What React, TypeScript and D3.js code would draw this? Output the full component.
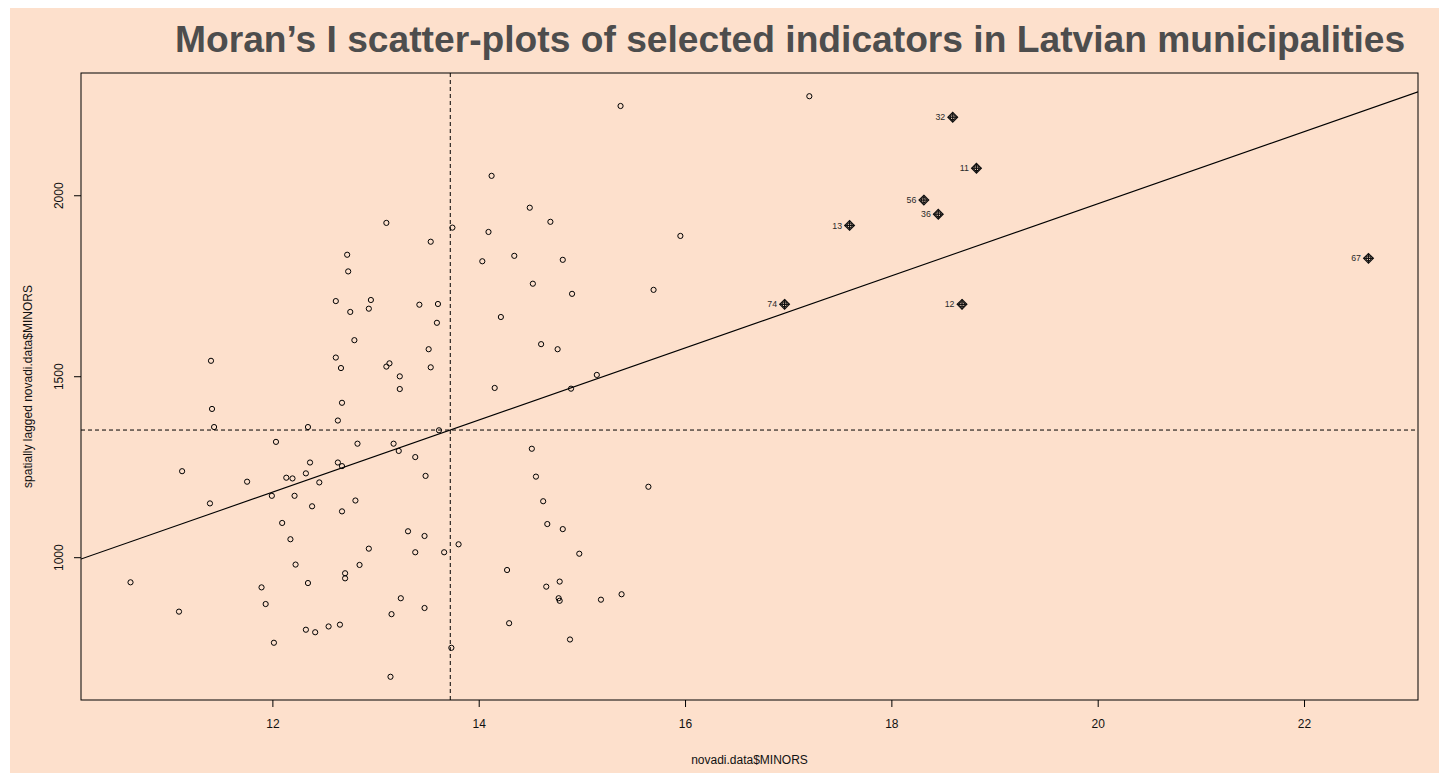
import { useMemo } from 'react'
import { scaleLinear, extent, mean, sum } from 'd3'

// Moran's I scatter-plot (spdep::moran.plot style) — x: MINORS, y: spatially lagged MINORS.
// Ordinary municipalities are drawn as open circles; influential ones get pch 9 diamonds + labels.

const TITLE = 'Moran’s I scatter-plots of selected indicators in Latvian municipalities'
const X_LABEL = 'novadi.data$MINORS'
const Y_LABEL = 'spatially lagged novadi.data$MINORS'

const X_VALUES = [
  13.1, 13.74, 13.53, 12.72, 12.73, 12.61, 12.95, 12.93, 12.75, 13.42,
  13.6, 13.59, 12.79, 12.61, 12.66, 13.51, 13.53, 13.1, 13.13, 11.4,
  13.23, 13.23, 11.41, 12.67, 12.63, 11.43, 12.34, 13.61, 12.03, 12.82,
  13.17, 13.22, 13.38, 11.12, 12.36, 12.63, 12.67, 12.32, 12.13, 12.19,
  11.75, 12.45, 13.48, 11.99, 12.21, 11.39, 12.38, 12.8, 12.67, 12.09,
  12.17, 13.31, 13.47, 13.8, 12.93, 13.38, 13.66, 12.22, 12.84, 12.7,
  12.7, 10.62, 11.89, 12.34, 11.93, 13.24, 11.09, 13.15, 13.47, 12.32,
  12.41, 12.54, 12.65, 12.01, 13.73, 13.14, 15.37, 17.2, 14.12, 14.49,
  14.69, 14.09, 15.95, 14.03, 14.34, 14.81, 14.52, 14.9, 15.69, 14.21,
  14.6, 14.76, 15.14, 14.15, 14.89, 14.51, 14.55, 15.64, 14.62, 14.66,
  14.81, 14.97, 14.27, 14.78, 14.65, 14.77, 14.78, 15.18, 15.38, 14.29,
  14.88,
]

const WX_VALUES = [
  1925, 1912, 1873, 1837, 1791, 1709, 1712, 1688, 1679, 1699,
  1701, 1649, 1601, 1553, 1524, 1576, 1526, 1528, 1537, 1544,
  1501, 1466, 1411, 1428, 1379, 1361, 1361, 1352, 1320, 1315,
  1315, 1295, 1278, 1239, 1263, 1263, 1253, 1233, 1221, 1219,
  1210, 1208, 1226, 1171, 1171, 1150, 1142, 1158, 1128, 1096,
  1051, 1073, 1060, 1037, 1025, 1015, 1015, 981, 980, 957,
  943, 932, 918, 930, 872, 888, 851, 844, 861, 801,
  794, 810, 815, 765, 751, 671, 2248, 2275, 2055, 1967,
  1928, 1900, 1889, 1819, 1834, 1823, 1757, 1729, 1740, 1665,
  1590, 1576, 1505, 1469, 1467, 1301, 1224, 1196, 1156, 1093,
  1079, 1011, 966, 934, 920, 888, 881, 884, 899, 819,
  774,
]

// influential observations (labelled)
const INF_LABELS = ['32', '11', '56', '36', '13', '74', '12', '67']
const INF_X = [18.59, 18.82, 18.31, 18.45, 17.59, 16.96, 18.68, 22.62]
const INF_WX = [2217, 2076, 1988, 1949, 1918, 1700, 1700, 1827]

const X_TICKS = [12, 14, 16, 18, 20, 22]
const Y_TICKS = [1000, 1500, 2000]

const W = 1429
const H = 765
const OX = 10 // page offset of the svg
const OY = 8
// plot frame in page coordinates
const FRAME = { left: 81, right: 1418, top: 73, bottom: 700 }
const BG = '#fde0cc'
const FONT = '"Liberation Sans", Arial, Helvetica, sans-serif'

// R-style 4% padding
function padded([lo, hi]: [number, number]): [number, number] {
  const d = (hi - lo) * 0.04
  return [lo - d, hi + d]
}

export default function App() {
  const allX = useMemo(() => [...X_VALUES, ...INF_X], [])
  const allWX = useMemo(() => [...WX_VALUES, ...INF_WX], [])

  const left = FRAME.left - OX
  const right = FRAME.right - OX
  const top = FRAME.top - OY
  const bottom = FRAME.bottom - OY

  const x = scaleLinear()
    .domain(padded(extent(allX) as [number, number]))
    .range([left, right])
  const y = scaleLinear()
    .domain(padded(extent(allWX) as [number, number]))
    .range([bottom, top])

  // lm(wx ~ x) and the two mean lines
  const mx = mean(allX) ?? 0
  const my = mean(allWX) ?? 0
  const slope =
    sum(allX.map((v, i) => (v - mx) * (allWX[i] - my))) / sum(allX.map((v) => (v - mx) * (v - mx)))
  const intercept = my - slope * mx
  const [x0, x1] = x.domain()

  return (
    <svg
      width={W}
      height={H}
      style={{ position: 'absolute', left: OX, top: OY, display: 'block' }}
      fontFamily={FONT}
    >
      <defs>
        <clipPath id="plot-clip">
          <rect x={left} y={top} width={right - left} height={bottom - top} />
        </clipPath>
      </defs>
      <rect x={0} y={0} width={W} height={H} fill={BG} />

      <text x={175 - OX} y={52 - OY} fontSize={37.2} fontWeight="bold" fill="#4d4d4d">
        {TITLE}
      </text>

      <g clipPath="url(#plot-clip)">
        <line x1={x(mx)} x2={x(mx)} y1={top} y2={bottom} stroke="#000" strokeDasharray="4 3" />
        <line x1={left} x2={right} y1={y(my)} y2={y(my)} stroke="#000" strokeDasharray="4 3" />
        <line
          x1={x(x0)}
          y1={y(intercept + slope * x0)}
          x2={x(x1)}
          y2={y(intercept + slope * x1)}
          stroke="#000"
          strokeWidth={1.1}
        />
        {allX.map((v, i) => (
          <circle key={i} cx={x(v)} cy={y(allWX[i])} r={2.6} fill="none" stroke="#000" strokeWidth={1} />
        ))}
        {INF_X.map((v, i) => {
          const cx = x(v)
          const cy = y(INF_WX[i])
          const s = 4.8
          return (
            <g key={INF_LABELS[i]} stroke="#111" strokeWidth={1.25}>
              <path d={`M${cx},${cy - s}L${cx + s},${cy}L${cx},${cy + s}L${cx - s},${cy}Z`} fill="none" />
              <line x1={cx - s} x2={cx + s} y1={cy} y2={cy} />
              <line x1={cx} x2={cx} y1={cy - s} y2={cy + s} />
              <text
                x={cx - 7.5}
                y={cy}
                dy="0.35em"
                textAnchor="end"
                fontSize={8.8}
                fill="#2a2a2a"
                stroke="none"
              >
                {INF_LABELS[i]}
              </text>
            </g>
          )
        })}
      </g>

      <rect x={left} y={top} width={right - left} height={bottom - top} fill="none" stroke="#000" strokeWidth={1} />

      {X_TICKS.map((t) => (
        <g key={t}>
          <line x1={x(t)} x2={x(t)} y1={bottom} y2={bottom + 7} stroke="#000" />
          <text x={x(t)} y={728 - OY} textAnchor="middle" fontSize={12} fill="#111">
            {t}
          </text>
        </g>
      ))}
      {Y_TICKS.map((t) => (
        <g key={t}>
          <line x1={left - 7} x2={left} y1={y(t)} y2={y(t)} stroke="#000" />
          <text
            transform={`translate(${63 - OX}, ${y(t)}) rotate(-90)`}
            textAnchor="middle"
            fontSize={12}
            fill="#111"
          >
            {t}
          </text>
        </g>
      ))}

      <text x={(left + right) / 2} y={764 - OY} textAnchor="middle" fontSize={12} fill="#111">
        {X_LABEL}
      </text>
      <text
        transform={`translate(${32 - OX}, ${(top + bottom) / 2}) rotate(-90)`}
        textAnchor="middle"
        fontSize={12}
        fill="#111"
      >
        {Y_LABEL}
      </text>
    </svg>
  )
}
